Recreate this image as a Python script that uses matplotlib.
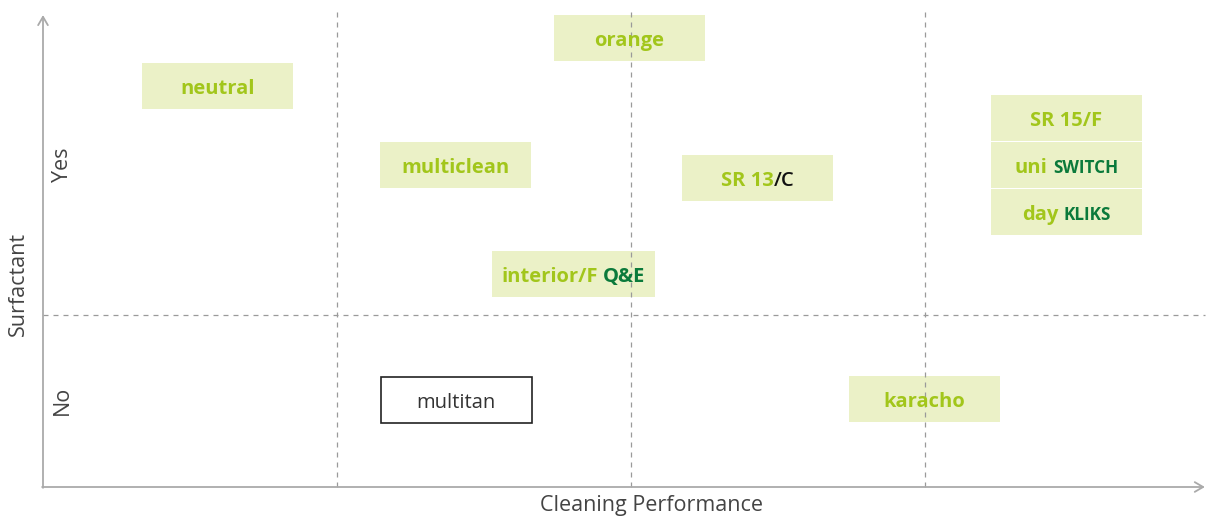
import matplotlib
matplotlib.use("Agg")
import matplotlib.pyplot as plt
from matplotlib.patches import Rectangle

plt.rcParams['font.family'] = ['Open Sans', 'DejaVu Sans']

# product positions: x = cleaning performance (0..4), y = surfactant (0 = no .. 2.7 = yes)
products = ["orange", "neutral", "multiclean", "SR 13/C", "SR 15/F",
            "uni SWITCH", "day KLIKS", "interior/F Q&E", "multitan", "karacho"]
performance = [1.995, 0.594, 1.403, 2.430, 3.481, 3.481, 3.481, 1.804, 1.405, 2.998]
surfactant = [2.610, 2.331, 1.872, 1.797, 2.145, 1.872, 1.599, 1.238, 0.506, 0.512]

# how each label is split into coloured parts
label_parts = {
    "orange": [("orange", "light")],
    "neutral": [("neutral", "light")],
    "multiclean": [("multiclean", "light")],
    "SR 13/C": [("SR 13", "light"), ("/C", "black")],
    "SR 15/F": [("SR 15/F", "light")],
    "uni SWITCH": [("uni", "light"), (" ", "space"), ("SWITCH", "caps")],
    "day KLIKS": [("day", "light"), (" ", "space"), ("KLIKS", "caps")],
    "interior/F Q&E": [("interior/F", "light"), (" ", "space"), ("Q&E", "dark")],
    "multitan": [("multitan", "plain")],
    "karacho": [("karacho", "light")],
}

x_divs = [1, 2, 3]
y_div = 1

LIGHT = "#a2c61b"
DARK = "#0b7a3b"
BOX = "#ebf1c7"
GRID = "#9a9a9a"
AXIS = "#aaaaaa"
TXT = "#444444"

fig = plt.figure(figsize=(12.09, 5.19), dpi=100)
ax = fig.add_axes([0, 0, 1, 1])
ax.set_xlim(-43 / 294, (1209 - 43) / 294)
ax.set_ylim((487 - 519) / 172, 487 / 172)
ax.axis('off')

x_end = 3.952
y_end = 2.744

# quadrant grid
for xd in x_divs:
    ax.plot([xd, xd], [0, y_end + 0.02], ls=(0, (4, 4)), color=GRID, lw=0.9)
ax.plot([0, x_end], [y_div, y_div], ls=(0, (4, 4)), color=GRID, lw=0.9)

# axes with open arrow heads
arrow = dict(arrowstyle='->,head_length=0.6,head_width=0.35', color=AXIS, lw=1.3,
             shrinkA=0, shrinkB=0)
ax.annotate('', xy=(x_end, 0), xytext=(-0.003, 0), arrowprops=arrow)
ax.annotate('', xy=(0, y_end), xytext=(0, -0.005), arrowprops=arrow)

ax.text(2.071, -0.11, "Cleaning Performance", ha='center', va='center',
        fontsize=15.5, color=TXT)
ax.text(-0.085, 1.18, "Surfactant", ha='center', va='center', rotation=90,
        fontsize=15.5, color=TXT)
ax.text(0.065, 1.872, "Yes", ha='center', va='center', rotation=90,
        fontsize=15.5, color=TXT)
ax.text(0.065, 0.506, "No", ha='center', va='center', rotation=90,
        fontsize=15.5, color=TXT)

box_w = 151 / 294
box_h = 46 / 172
wide_boxes = {"interior/F Q&E": 163 / 294}
fs = 14.5

styles = {
    "light": dict(color=LIGHT, fontweight='bold', fontsize=fs),
    "dark": dict(color=DARK, fontweight='bold', fontsize=fs),
    "caps": dict(color=DARK, fontweight='bold', fontsize=fs * 0.85),
    "black": dict(color="#111111", fontweight='semibold', fontsize=fs),
    "plain": dict(color="#333333", fontweight='normal', fontsize=fs),
    "space": dict(color=LIGHT, fontweight='bold', fontsize=fs),
}

renderer = fig.canvas.get_renderer()


def width_of(s, st):
    t = ax.text(0, 0, s, **st)
    w = t.get_window_extent(renderer).width
    t.remove()
    return w


space_w = width_of("a a", styles["light"]) - width_of("aa", styles["light"])

for name, xv, yv in zip(products, performance, surfactant):
    parts = label_parts[name]
    widths = []
    for s, kind in parts:
        widths.append(space_w if kind == "space" else width_of(s, styles[kind]))
    total = sum(widths)
    w = wide_boxes.get(name, box_w)
    if name == "multitan":
        ax.add_patch(Rectangle((xv - w / 2, yv - box_h / 2), w, box_h,
                               facecolor='white', edgecolor='#222222', lw=1.2))
    else:
        ax.add_patch(Rectangle((xv - w / 2, yv - box_h / 2), w, box_h,
                               facecolor=BOX, edgecolor='none'))
    cx, cy = ax.transData.transform((xv, yv))
    px = cx - total / 2
    inv = ax.transData.inverted()
    for (s, kind), wd in zip(parts, widths):
        if kind != "space":
            dx, dy = inv.transform((px, cy))
            ax.text(dx, yv - 0.005, s, ha='left', va='center_baseline', **styles[kind])
        px += wd

fig.savefig("out.png", dpi=100)
